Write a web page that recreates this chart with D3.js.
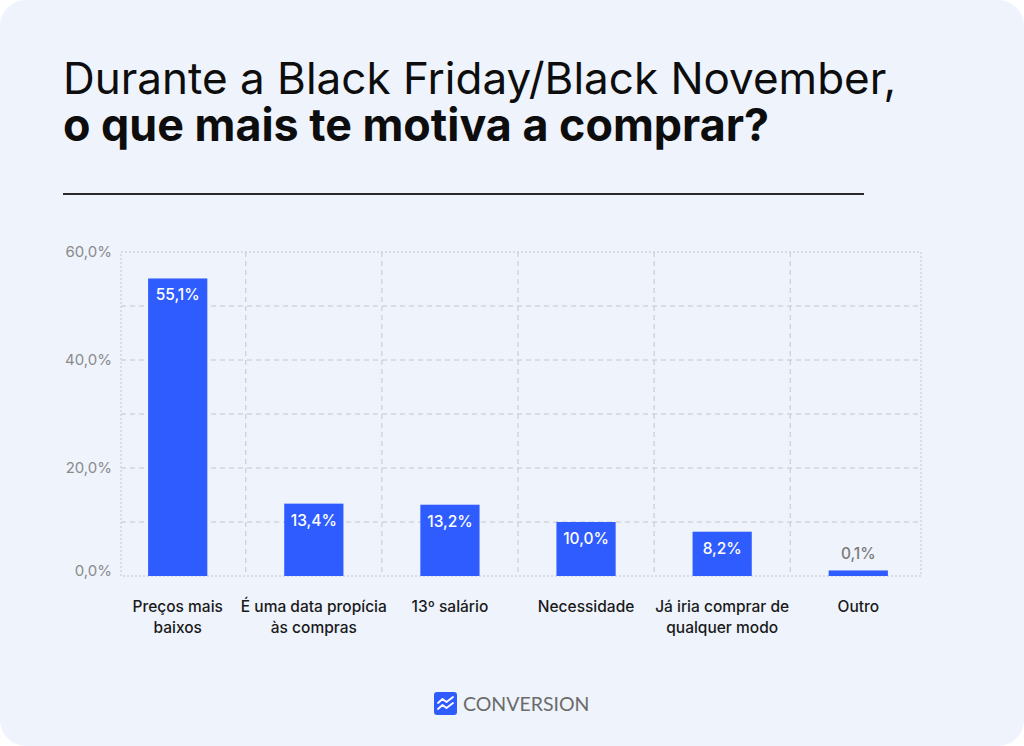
<!DOCTYPE html>
<html>
<head>
<meta charset="utf-8">
<script src="https://cdn.jsdelivr.net/npm/d3@7"></script>
<style>
  html, body { margin: 0; padding: 0; background: #fff; }
  svg { display: block; font-family: Inter, "Noto Sans", sans-serif; }
</style>
</head>
<body>
<div id="chart"></div>
<script>
// Dados do gráfico
const categorias = [
  ["Preços mais", "baixos"],
  ["É uma data propícia", "às compras"],
  ["13º salário"],
  ["Necessidade"],
  ["Já iria comprar de", "qualquer modo"],
  ["Outro"]
];
const valores = [55.1, 13.4, 13.2, 10.0, 8.2, 0.1];
const rotulos = ["55,1%", "13,4%", "13,2%", "10,0%", "8,2%", "0,1%"];
const ticksY = [0, 20, 40, 60];
const gradeY = [10, 20, 30, 40, 50];

const width = 1024, height = 746;

const svg = d3.select("#chart").append("svg")
  .attr("width", width)
  .attr("height", height);

// Cartão de fundo
svg.append("rect")
  .attr("x", 0).attr("y", 0)
  .attr("width", width).attr("height", height)
  .attr("rx", 26)
  .style("fill", "#eef3fc");

// Título (duas linhas)
svg.append("text")
  .attr("x", 63).attr("y", 94)
  .style("fill", "#0d0d0d")
  .style("font-size", "44px")
  .style("font-weight", "400")
  .text("Durante a Black Friday/Black November,");
svg.append("text")
  .attr("x", 63).attr("y", 141)
  .style("fill", "#0d0d0d")
  .style("font-size", "44.8px")
  .style("font-weight", "700")
  .text("o que mais te motiva a comprar?");

svg.append("line")
  .attr("x1", 63).attr("x2", 864)
  .attr("y1", 194).attr("y2", 194)
  .style("stroke", "#2a2a2a")
  .style("stroke-width", 2);

// Escalas
const plot = { left: 121, right: 921, top: 252, bottom: 576 };

const x = d3.scaleBand()
  .domain(d3.range(categorias.length))
  .range([110, 926])
  .paddingInner(0.565)
  .paddingOuter(0.28);

const y = d3.scaleLinear()
  .domain([0, 60])
  .range([plot.bottom, plot.top]);

const g = svg.append("g");

// Grade horizontal
g.selectAll(".grade-h")
  .data(gradeY)
  .join("line")
  .attr("x1", plot.left).attr("x2", plot.right)
  .attr("y1", d => y(d)).attr("y2", d => y(d))
  .style("stroke", "#c6c6c6")
  .style("stroke-width", 1)
  .style("stroke-dasharray", "5,4");

// Grade vertical (limites das categorias)
const limites = d3.range(1, categorias.length).map(i => x(i) - x.step() * x.paddingInner() / 2);
g.selectAll(".grade-v")
  .data(limites)
  .join("line")
  .attr("x1", d => d).attr("x2", d => d)
  .attr("y1", plot.top).attr("y2", plot.bottom)
  .style("stroke", "#c6c6c6")
  .style("stroke-width", 1)
  .style("stroke-dasharray", "5,4");

// Moldura pontilhada
g.append("rect")
  .attr("x", plot.left).attr("y", plot.top)
  .attr("width", plot.right - plot.left)
  .attr("height", plot.bottom - plot.top)
  .style("fill", "none")
  .style("stroke", "#c6c6c6")
  .style("stroke-width", 1)
  .style("stroke-dasharray", "2,2");

// Eixo Y
const eixoY = svg.append("g")
  .attr("transform", `translate(${plot.left}, 0)`)
  .call(d3.axisLeft(y).tickValues(ticksY).tickSize(0).tickPadding(9)
    .tickFormat(d => d3.format(".1f")(d).replace(".", ",") + "%"));
eixoY.select(".domain").remove();
eixoY.selectAll("text")
  .style("font-family", "Inter, sans-serif")
  .style("font-size", "15px")
  .style("fill", "#8a8a8a")
  .attr("dy", d => d === 0 ? "-0.05em" : "0.32em");

// Barras
g.selectAll(".barra")
  .data(valores)
  .join("rect")
  .attr("x", (d, i) => x(i))
  .attr("y", d => y(d) - (d < 1 ? 5 : 0))
  .attr("width", x.bandwidth())
  .attr("height", d => plot.bottom - y(d) + (d < 1 ? 5 : 0))
  .style("fill", "#2f5cff");

// Rótulos de valor
g.selectAll(".valor")
  .data(valores)
  .join("text")
  .attr("x", (d, i) => x(i) + x.bandwidth() / 2)
  .attr("y", d => d < 5 ? y(d) - 16 : y(d) + 22)
  .attr("text-anchor", "middle")
  .style("font-size", "15.5px")
  .style("font-weight", "500")
  .style("fill", d => d < 5 ? "#7a7a7a" : "#ffffff")
  .text((d, i) => rotulos[i]);

// Rótulos das categorias
const rotCat = g.selectAll(".categoria")
  .data(categorias)
  .join("text")
  .attr("text-anchor", "middle")
  .style("font-size", "15.5px")
  .style("font-weight", "500")
  .style("fill", "#1a1a1a");
rotCat.each(function(linhas, i) {
  d3.select(this).selectAll("tspan")
    .data(linhas)
    .join("tspan")
    .attr("x", x(i) + x.bandwidth() / 2)
    .attr("y", (d, j) => 612 + j * 21)
    .text(d => d);
});

// Logo CONVERSION
const logo = svg.append("g").attr("transform", "translate(434, 692)");
logo.append("rect")
  .attr("width", 23).attr("height", 23)
  .attr("rx", 3)
  .style("fill", "#2f5cff");
logo.append("path")
  .attr("d", "M4,11 L8.5,7 L12.5,10 L19,5")
  .style("fill", "none").style("stroke", "#fff").style("stroke-width", 1.8)
  .style("stroke-linecap", "round").style("stroke-linejoin", "round");
logo.append("path")
  .attr("d", "M4,17 L8.5,13 L12.5,16 L19,11")
  .style("fill", "none").style("stroke", "#fff").style("stroke-width", 1.8)
  .style("stroke-linecap", "round").style("stroke-linejoin", "round");
logo.append("text")
  .attr("x", 29).attr("y", 19)
  .style("font-family", "Lato, 'Open Sans', sans-serif")
  .style("font-size", "19.5px")
  .style("font-weight", "400")
  .style("fill", "#6b6b6b")
  .text("CONVERSION");
</script>
</body>
</html>
